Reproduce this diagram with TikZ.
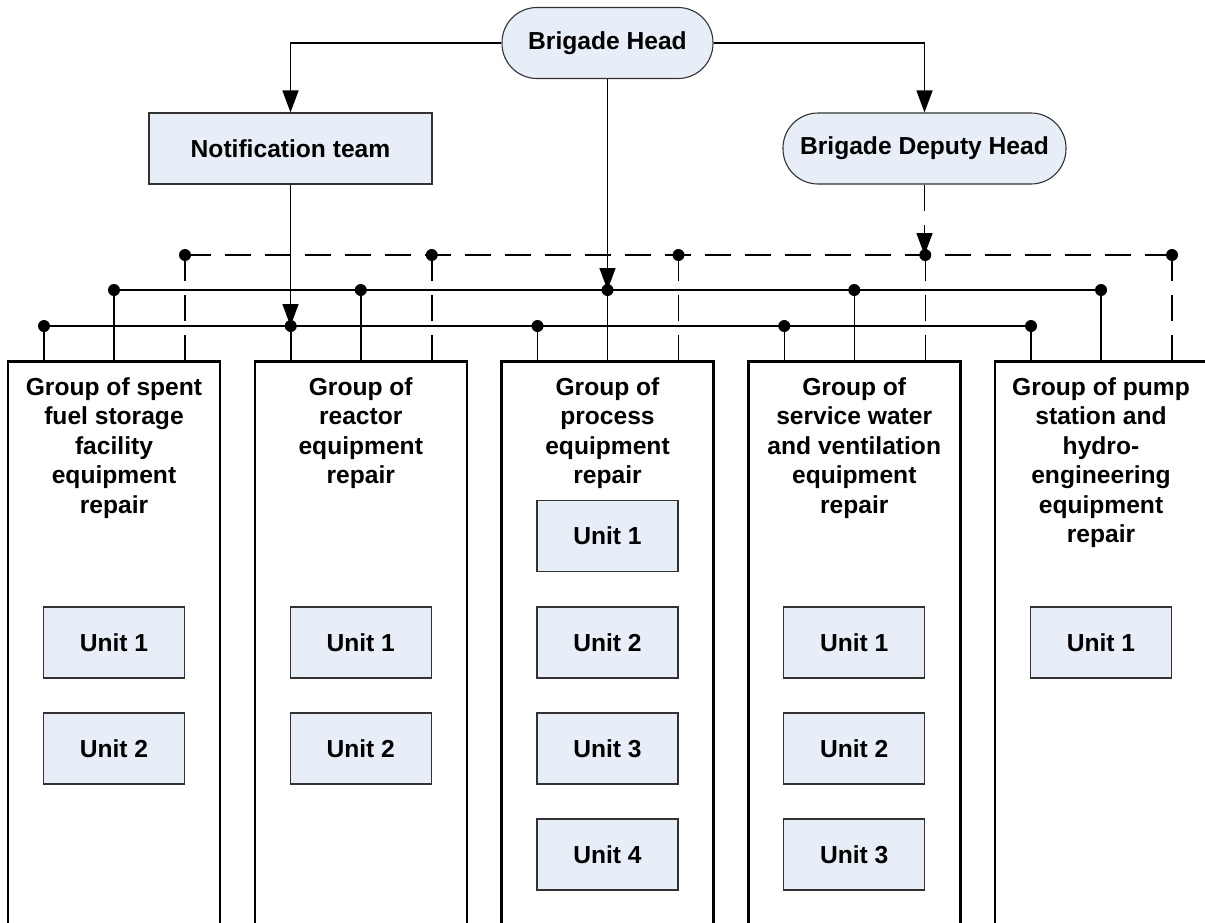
\documentclass[tikz,border=0pt]{standalone}
\usepackage{fontspec}
\setmainfont{Liberation Sans}
\usetikzlibrary{arrows.meta}
\definecolor{boxfill}{RGB}{232,238,247}
\definecolor{boxline}{RGB}{50,50,50}
\begin{document}
\begin{tikzpicture}[x=0.5pt,y=-0.5pt,
  every node/.style={font=\fontsize{12.3}{14.75}\selectfont\bfseries},
  unitbox/.style={draw=boxline,fill=boxfill,line width=0.55pt,minimum width=70.5pt,minimum height=35.5pt,inner sep=0pt},
  headbox/.style={unitbox,rounded corners=17.5pt,minimum width=105.5pt},
  groupbox/.style={draw=black,line width=1.25pt,minimum width=106pt,minimum height=300pt,inner sep=0pt,anchor=north},
  grouptext/.style={align=center,inner sep=0pt,anchor=north},
  conn/.style={line width=0.75pt,draw=black},
  dashline/.style={dash pattern=on 13pt off 7pt},
  arrowtip/.style={-{Triangle[length=11pt,width=8pt]}},
  dot/.style={fill=black}
]
\useasboundingbox (0,0) rectangle (1205,922);
\clip (0,0) rectangle (1205,922);

% top nodes
\node[headbox] (bh) at (607.5,43) {Brigade Head};
\node[unitbox,minimum width=141.5pt] (nt) at (290.5,148.5) {Notification team};
\node[headbox,minimum width=141.5pt] (dh) at (924.5,148.5) {Brigade Deputy Head};

% group boxes
\foreach \i/\cx in {1/114,2/360.75,3/607.5,4/854.25,5/1101}{
  \node[groupbox] (g\i) at (\cx,360) {};
  \coordinate (a\i) at (\cx-70,326);
  \coordinate (b\i) at (\cx,290);
  \coordinate (d\i) at (\cx+71,255);
}

% group labels
\node[grouptext] (t1) at ([yshift=-8.5pt]g1.north) {Group of spent\\fuel storage\\facility\\equipment\\repair};
\node[grouptext] (t2) at ([yshift=-8.5pt]g2.north) {Group of\\reactor\\equipment\\repair};
\node[grouptext] (t3) at ([yshift=-8.5pt]g3.north) {Group of\\process\\equipment\\repair};
\node[grouptext] (t4) at ([yshift=-8.5pt]g4.north) {Group of\\service water\\and ventilation\\equipment\\repair};
\node[grouptext] (t5) at ([yshift=-8.5pt]g5.north) {Group of pump\\station and\\hydro-\\engineering\\equipment\\repair};

% units
\node[unitbox] (u11) at (114,642.5) {Unit 1};
\node[unitbox] (u12) at (114,748.5) {Unit 2};
\node[unitbox] (u21) at (360.75,642.5) {Unit 1};
\node[unitbox] (u22) at (360.75,748.5) {Unit 2};
\node[unitbox] (u31) at (607.5,536) {Unit 1};
\node[unitbox] (u32) at (607.5,642.5) {Unit 2};
\node[unitbox] (u33) at (607.5,748.5) {Unit 3};
\node[unitbox] (u34) at (607.5,854.5) {Unit 4};
\node[unitbox] (u41) at (854.25,642.5) {Unit 1};
\node[unitbox] (u42) at (854.25,748.5) {Unit 2};
\node[unitbox] (u43) at (854.25,854.5) {Unit 3};
\node[unitbox] (u51) at (1101,642.5) {Unit 1};

% buses
\draw[conn] (a1) -- (a5);
\draw[conn] (b1) -- (b5);
\draw[conn,dashline] (d1) -- (d5);
\foreach \i in {1,...,5}{
  \draw[conn] (a\i) -- (a\i |- g\i.north);
  \draw[conn] (b\i) -- (b\i |- g\i.north);
  \draw[conn,dashline] (d\i) -- (d\i |- g\i.north);
}

% arrows from heads
\draw[conn,arrowtip] (bh.west) -| (nt.north);
\draw[conn,arrowtip] (bh.east) -| (dh.north);
\draw[conn,arrowtip] (bh.south) -- (b3);
\draw[conn,arrowtip] (nt.south) -- (nt.south |- a2);
\draw[conn,dashline,arrowtip] (dh.south) -- (dh.south |- d4);

% dots
\foreach \i in {1,...,5}{
  \fill[dot] (a\i) circle (3pt);
  \fill[dot] (b\i) circle (3pt);
  \fill[dot] (d\i) circle (3pt);
}
\end{tikzpicture}
\end{document}
